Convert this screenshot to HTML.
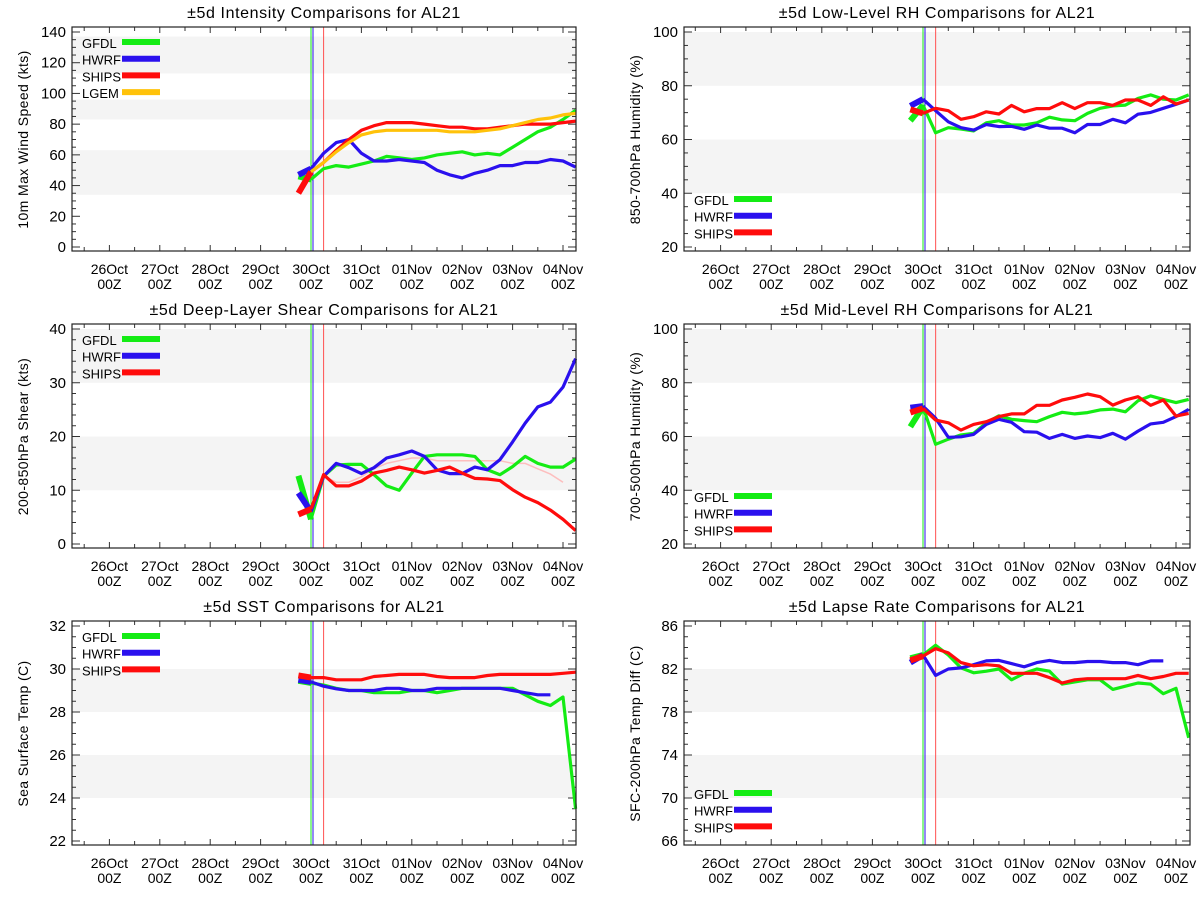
<!DOCTYPE html>
<html><head><meta charset="utf-8">
<style>
html,body{margin:0;padding:0;background:#fff;}
svg{display:block;font-family:"Liberation Sans","DejaVu Sans",sans-serif;}
</style></head>
<body>
<svg id="chart" width="1200" height="900" viewBox="0 0 1200 900" xmlns="http://www.w3.org/2000/svg"></svg>
<script>
// forecast hours relative to 30Oct 00Z
const fcstHours = [-6,0,6,12,18,24,30,36,42,48,54,60,66,72,78,84,90,96,102,108,114,120,126];
const dayLabels = ["26Oct","27Oct","28Oct","29Oct","30Oct","31Oct","01Nov","02Nov","03Nov","04Nov"];
const dayOffsets = [-4,-3,-2,-1,0,1,2,3,4,5];

// Intensity (kts)
const intGFDL = [46,44,51,53,52,54,56,59,58,57,58,60,61,62,60,61,60,65,70,75,78,83,89];
const intHWRF = [47,51,61,68,70,61,56,56,57,56,55,50,47,45,48,50,53,53,55,55,57,56,52];
const intSHIPS = [35,49,55,63,70,76,79,81,81,81,80,79,78,78,77,77,78,79,80,80,80,81,82];
const intLGEM = [null,49,55,62,68,73,75,76,76,76,76,76,75,75,75,76,77,79,81,83,84,86,87];

// Low-level RH (%)
const lrhGFDL = [67,72.8,62.5,64.4,63.9,63.2,66.2,67,65.4,65.4,66.2,68.3,67.3,67,69.7,71.6,72.5,72.8,75.3,76.6,75,74.7,76.6];
const lrhHWRF = [72.5,75,70.7,66.6,64.4,63.5,65.6,64.8,64.9,63.8,65.4,64.2,64.2,62.5,65.6,65.6,67.5,66.2,69.4,70.1,71.6,73.1,74.7];
const lrhSHIPS = [71.2,69.7,71.6,70.7,67.5,68.5,70.3,69.5,72.7,70.3,71.5,71.5,73.7,71.5,73.7,73.7,72.7,74.7,74.7,72.7,75.9,73.2,74.7];

// Deep-layer shear (kts)
const shrGFDL = [12.7,4.6,12.6,14.7,14.8,14.8,12.9,10.8,10,13.2,16.3,16.6,16.6,16.6,16.3,13.8,12.9,14.4,16.3,15,14.3,14.3,15.8];
const shrHWRF = [9.5,6,12.6,15,14.2,13.1,14.2,16,16.6,17.3,16.3,13.8,13.1,13.1,14.3,13.8,15.7,19,22.5,25.5,26.4,29.2,34.5];
const shrSHIPS = [5.5,6.5,12.9,10.8,10.8,11.7,13.2,13.7,14.3,13.8,13.2,13.7,14.3,13.2,12.2,12.1,11.8,10.1,8.7,7.7,6.3,4.6,2.5];
const shrPrev = [null,null,12.6,11.5,11.5,12.5,14,15,15.5,16,16,15.5,15.5,15.5,15.5,15.5,15.5,15,15,14,13,11.5,null];

// Mid-level RH (%)
const mrhGFDL = [63.6,71.1,57.1,59,60.6,61.2,65.1,67.7,66.4,65.9,65.5,67.4,69,68.4,68.9,69.9,70.2,69.2,73.3,75.1,73.8,72.6,73.8];
const mrhHWRF = [70.7,71.3,66.8,59.7,59.9,60.8,64.5,66.4,65.3,61.8,61.6,59.3,60.8,59.3,60.2,59.6,61.2,59,62,64.7,65.3,67.4,70.1];
const mrhSHIPS = [68.9,70.5,66.1,65.1,62.4,64.5,65.5,67.4,68.4,68.4,71.6,71.6,73.6,74.6,75.8,74.8,71.7,73.6,74.8,71.6,73.6,67.6,68.6];

// SST (C)
const sstGFDL = [29.45,29.35,29.25,29.1,29.0,29.0,28.9,28.9,28.9,29.0,29.0,28.9,29.0,29.1,29.1,29.1,29.1,29.1,28.8,28.5,28.3,28.7,23.5];
const sstHWRF = [29.5,29.4,29.2,29.08,29.0,29.0,29.0,29.1,29.1,29.0,29.0,29.1,29.1,29.1,29.1,29.1,29.1,29.0,28.9,28.8,28.8,null,null];
const sstSHIPS = [29.7,29.6,29.6,29.5,29.5,29.5,29.65,29.7,29.75,29.75,29.75,29.65,29.6,29.6,29.6,29.7,29.75,29.75,29.75,29.75,29.75,29.8,29.85];

// Lapse rate (C)
const lpsGFDL = [83.0,83.3,84.2,83.3,82.1,81.65,81.8,82.0,81.0,81.6,82.0,81.8,80.6,80.8,81.0,81.0,80.1,80.4,80.7,80.6,79.7,80.2,75.6];
const lpsHWRF = [82.6,83.3,81.4,82.0,82.1,82.4,82.75,82.8,82.5,82.2,82.6,82.8,82.6,82.6,82.7,82.7,82.6,82.6,82.4,82.75,82.75,null,null];
const lpsSHIPS = [82.8,83.2,83.9,83.5,82.6,82.3,82.4,82.3,81.6,81.6,81.6,81.2,80.7,81.0,81.1,81.1,81.1,81.1,81.4,81.1,81.3,81.6,81.6];

const C = {g:'#14ec14', b:'#2a10ee', r:'#ff0c0c', y:'#ffc20a'};
const NS = 'http://www.w3.org/2000/svg';
const svg = document.getElementById('chart');

function mk(tag, attrs, parent){
  const e = document.createElementNS(NS, tag);
  for (const k in attrs) e.setAttribute(k, attrs[k]);
  (parent||svg).appendChild(e);
  return e;
}

const panels = [
  {key:'intensity', col:0,row:0, title:'±5d Intensity Comparisons for AL21', ytitle:'10m Max Wind Speed (kts)',
   ymin:0,ymax:140,major:20,minor:5, bands:[[34,63],[83,96],[113,137]], legendTop:true,
   series:[['GFDL',intGFDL,C.g],['HWRF',intHWRF,C.b],['SHIPS',intSHIPS,C.r],['LGEM',intLGEM,C.y]]},
  {key:'low-rh', col:1,row:0, title:'±5d Low-Level RH Comparisons for AL21', ytitle:'850-700hPa Humidity (%)',
   ymin:20,ymax:100,major:20,minor:5, bands:[[80,100],[40,60]], legendTop:false,
   series:[['GFDL',lrhGFDL,C.g],['HWRF',lrhHWRF,C.b],['SHIPS',lrhSHIPS,C.r]]},
  {key:'shear', col:0,row:1, title:'±5d Deep-Layer Shear Comparisons for AL21', ytitle:'200-850hPa Shear (kts)',
   ymin:0,ymax:40,major:10,minor:2, bands:[[30,40],[10,20]], legendTop:true, faint:shrPrev,
   series:[['GFDL',shrGFDL,C.g],['HWRF',shrHWRF,C.b],['SHIPS',shrSHIPS,C.r]]},
  {key:'mid-rh', col:1,row:1, title:'±5d Mid-Level RH Comparisons for AL21', ytitle:'700-500hPa Humidity (%)',
   ymin:20,ymax:100,major:20,minor:5, bands:[[80,100],[40,60]], legendTop:false,
   series:[['GFDL',mrhGFDL,C.g],['HWRF',mrhHWRF,C.b],['SHIPS',mrhSHIPS,C.r]]},
  {key:'sst', col:0,row:2, title:'±5d SST Comparisons for AL21', ytitle:'Sea Surface Temp (C)',
   ymin:22,ymax:32,major:2,minor:0.5, bands:[[28,30],[24,26]], legendTop:true,
   series:[['GFDL',sstGFDL,C.g],['HWRF',sstHWRF,C.b],['SHIPS',sstSHIPS,C.r]]},
  {key:'lapse-rate', col:1,row:2, title:'±5d Lapse Rate Comparisons for AL21', ytitle:'SFC-200hPa Temp Diff (C)',
   ymin:66,ymax:86,major:4,minor:1, bands:[[78,82],[70,74]], legendTop:false,
   series:[['GFDL',lpsGFDL,C.g],['HWRF',lpsHWRF,C.b],['SHIPS',lpsSHIPS,C.r]]}
];

panels.forEach(p=>{
  const g = mk('g', {});
  
  
  const dy = p.row*297;
  const L = p.col ? 684 : 72, R = p.col ? 1190 : 576;
  const T = 27+dy, B = 251+dy;
  const yTop = 32+dy, yBot = 247+dy;
  const t0 = p.col ? 923 : 311;
  const pxDay = (R-L)/10;
  const X = h => t0 + h/24*pxDay;
  const Y = v => yBot - (v-p.ymin)/(p.ymax-p.ymin)*(yBot-yTop);

  p.bands.forEach(b=>{
    const r = mk('rect', {x:L, y:Y(b[1]), width:R-L, height:Y(b[0])-Y(b[1]), fill:'#f4f4f4'}, g);
    
    
  });
  const tt = mk('text', {x:(L+R)/2, y:18+dy, 'text-anchor':'middle', 'font-size':'16', fill:'#000', 'letter-spacing':'0.6'}, g);
  tt.textContent = p.title;
  
  
  const yx = p.col ? 640 : 28;
  const yt = mk('text', {x:yx, y:(yTop+yBot)/2, 'text-anchor':'middle', 'font-size':'14', fill:'#000', transform:`rotate(-90 ${yx} ${(yTop+yBot)/2})`, 'letter-spacing':'0.4'}, g);
  yt.textContent = p.ytitle;
  
  

  for (let v=p.ymin; v<=p.ymax+1e-6; v+=p.minor){
    const isMaj = Math.abs((v-p.ymin)/p.major - Math.round((v-p.ymin)/p.major))<1e-6;
    const len = isMaj?8:4;
    const y = Y(v);
    mk('line', {x1:L, x2:L+len, y1:y, y2:y, stroke:'#333', 'stroke-width':1}, g);
    mk('line', {x1:R, x2:R-len, y1:y, y2:y, stroke:'#333', 'stroke-width':1}, g);
    if (isMaj){
      const lb = mk('text', {x:L-6, y:y+5, 'text-anchor':'end', 'font-size':'15', fill:'#000'}, g);
      lb.textContent = String(Math.round(v));
      
      
    }
  }
  for (let h=-108; h<=126; h+=12){
    const x = X(h);
    if (x<L+1||x>R-1) continue;
    const len = (h%24===0)?6:4;
    mk('line', {x1:x, x2:x, y1:B, y2:B-len, stroke:'#333', 'stroke-width':1}, g);
    mk('line', {x1:x, x2:x, y1:T, y2:T+len, stroke:'#333', 'stroke-width':1}, g);
  }
  dayLabels.forEach((d,i)=>{
    const x = X(dayOffsets[i]*24);
    const a = mk('text', {x:x, y:B+23, 'text-anchor':'middle', 'font-size':'14', fill:'#000'}, g);
    a.textContent = d;
    
    
    const b = mk('text', {x:x, y:B+38, 'text-anchor':'middle', 'font-size':'14', fill:'#000'}, g);
    b.textContent = '00Z';
    
    
  });
  mk('line', {x1:X(0), x2:X(0), y1:T, y2:B, stroke:C.g, 'stroke-width':1}, g);
  mk('line', {x1:X(0)+2, x2:X(0)+2, y1:T, y2:B, stroke:C.b, 'stroke-width':1}, g);
  mk('line', {x1:X(6), x2:X(6), y1:T, y2:B, stroke:'#ff5050', 'stroke-width':1}, g);

  if (p.faint){
    let d=''; let first=true;
    p.faint.forEach((v,i)=>{ if(v==null){return;} d += (first?'M':'L')+X(fcstHours[i]).toFixed(1)+','+Y(v).toFixed(1); first=false; });
    const fl = mk('path', {d:d, fill:'none', stroke:'#ffb0b0', 'stroke-width':1.5, opacity:0.8}, g);
    
    
  }
  p.series.forEach(s=>{
    const vals = s[1];
    let d=''; let first=true;
    for (let i=1;i<vals.length;i++){
      if (vals[i]==null) continue;
      d += (first?'M':'L')+X(fcstHours[i]).toFixed(1)+','+Y(vals[i]).toFixed(1); first=false;
    }
    const ln = mk('path', {d:d, fill:'none', stroke:s[2], 'stroke-width':3.2, 'stroke-linejoin':'round'}, g);
    
    
    if (vals[0]!=null && vals[1]!=null){
      const th = mk('line', {x1:X(fcstHours[0]), y1:Y(vals[0]), x2:X(fcstHours[1]), y2:Y(vals[1]), stroke:s[2], 'stroke-width':6}, g);
      
      
    }
  });

  mk('rect', {x:L, y:T, width:R-L, height:B-T, fill:'none', stroke:'#222', 'stroke-width':1.2}, g);

  const ly0 = p.legendTop ? T+15 : B-52;
  p.series.forEach((s,i)=>{
    const y = ly0 + i*16.7;
    const lt = mk('text', {x:L+10, y:y+6, 'font-size':'13', fill:'#000'}, g);
    lt.textContent = s[0];
    
    
    const ll = mk('line', {x1:L+50, x2:L+88, y1:y, y2:y, stroke:s[2], 'stroke-width':6}, g);
    
    
  });
});
</script>
</body></html>
